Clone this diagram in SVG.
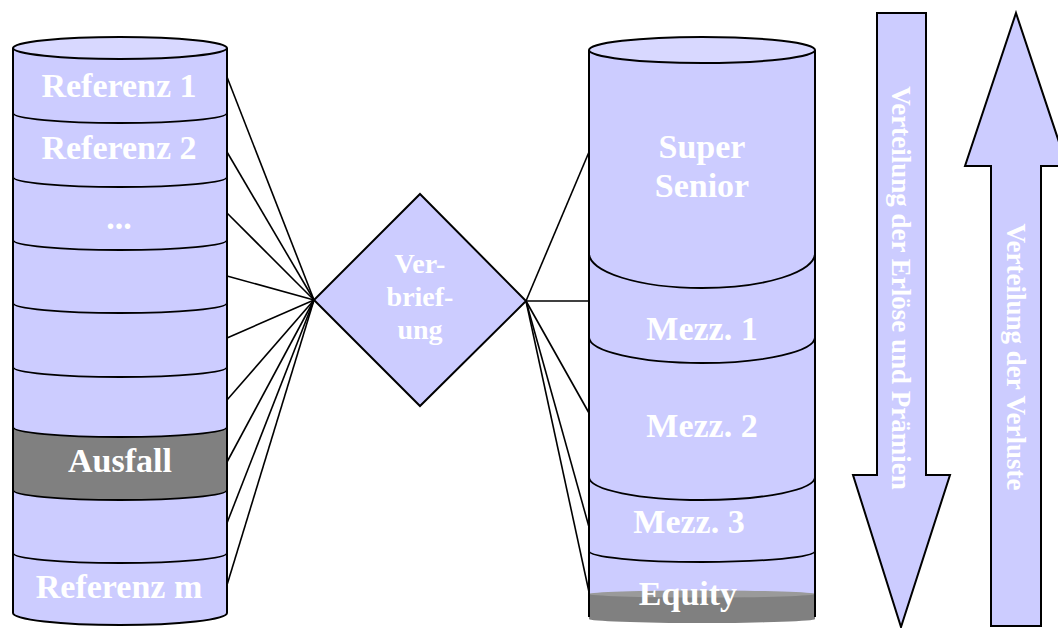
<svg xmlns="http://www.w3.org/2000/svg" width="1058" height="628" viewBox="0 0 1058 628">
  <style>
    .body { fill: #CCCCFF; stroke: none; }
    .top { fill: #D8D8FF; stroke: #000; stroke-width: 2; }
    .edge { fill: none; stroke: #000; stroke-width: 2; }
    .div { fill: none; stroke: #000; stroke-width: 1.8; }
    .link { fill: none; stroke: #000; stroke-width: 1.6; }
    .shape { fill: #CCCCFF; stroke: #000; stroke-width: 2; stroke-linejoin: miter; }
    .lbl { font-family: "Liberation Serif", "Times New Roman", serif; font-weight: bold; fill: #FFFFFF; text-anchor: middle; }
    .big { font-size: 34px; }
    .mid { font-size: 28px; }
    .side { font-size: 27px; }
  </style>

  <!-- connectors -->
  <g id="connectors">
    <line class="link" x1="227" y1="77" x2="314" y2="300"/>
    <line class="link" x1="227" y1="152" x2="314" y2="300"/>
    <line class="link" x1="227" y1="213" x2="314" y2="300"/>
    <line class="link" x1="227" y1="276" x2="314" y2="300"/>
    <line class="link" x1="227" y1="338" x2="314" y2="300"/>
    <line class="link" x1="227" y1="400" x2="314" y2="300"/>
    <line class="link" x1="227" y1="462" x2="314" y2="300"/>
    <line class="link" x1="227" y1="523" x2="314" y2="300"/>
    <line class="link" x1="227" y1="585" x2="314" y2="300"/>
    <line class="link" x1="526" y1="301" x2="589" y2="152"/>
    <line class="link" x1="526" y1="301" x2="589" y2="301"/>
    <line class="link" x1="526" y1="301" x2="589" y2="413"/>
    <line class="link" x1="526" y1="301" x2="589" y2="527"/>
    <line class="link" x1="526" y1="301" x2="589" y2="592"/>
  </g>

  <!-- reference pool -->
  <g id="pool">
    <path class="body" d="M13,48 L13,613 A107,12 0 0 0 227,613 L227,48 Z"/>
    <path fill="#808080" d="M13,427 A107,10 0 0 0 227,427 L227,490 A107,10 0 0 1 13,490 Z"/>
    <path class="edge" d="M13,48 L13,613 A107,12 0 0 0 227,613 L227,48"/>
    <ellipse class="top" cx="120" cy="48" rx="107" ry="11"/>
    <path class="div" d="M13,113 A107,10 0 0 0 227,113"/>
    <path class="div" d="M13,177 A107,10 0 0 0 227,177"/>
    <path class="div" d="M13,240 A107,10 0 0 0 227,240"/>
    <path class="div" d="M13,303 A107,10 0 0 0 227,303"/>
    <path class="div" d="M13,367 A107,10 0 0 0 227,367"/>
    <path class="div" d="M13,427 A107,10 0 0 0 227,427"/>
    <path class="div" d="M13,490 A107,10 0 0 0 227,490"/>
    <path class="div" d="M13,553 A107,10 0 0 0 227,553"/>
    <text class="lbl big" x="119" y="97">Referenz 1</text>
    <text class="lbl big" x="119" y="159">Referenz 2</text>
    <text class="lbl big" x="119" y="229">...</text>
    <text class="lbl big" x="120" y="472">Ausfall</text>
    <text class="lbl big" x="119" y="598">Referenz m</text>
  </g>

  <!-- securitisation -->
  <g id="verbriefung">
    <polygon class="shape" points="420,194 526,301 420,406 314,300"/>
    <text class="lbl mid" x="420" y="273">Ver-</text>
    <text class="lbl mid" x="420" y="306">brief-</text>
    <text class="lbl mid" x="420" y="339">ung</text>
  </g>

  <!-- tranches -->
  <g id="tranches">
    <rect class="body" x="589" y="50" width="226" height="567"/>
    <path fill="#808080" d="M589,594 L589,619 A113,4 0 0 0 815,619 L815,594 Z"/>
    <ellipse fill="#9A9A9A" cx="702" cy="594" rx="113" ry="3.5"/>
    <path class="edge" d="M589,50 L589,617 M815,50 L815,617"/>
    <ellipse class="top" cx="702" cy="50" rx="113" ry="13"/>
    <path class="div" d="M589,253 A113,35 0 0 0 815,253"/>
    <path class="div" d="M589,337 A113,26 0 0 0 815,337"/>
    <path class="div" d="M589,477 A113,23 0 0 0 815,477"/>
    <path class="div" d="M589,551 A113,11 0 0 0 815,551"/>
    <text class="lbl big" x="702" y="158">Super</text>
    <text class="lbl big" x="702" y="197">Senior</text>
    <text class="lbl big" x="702" y="340">Mezz. 1</text>
    <text class="lbl big" x="702" y="437">Mezz. 2</text>
    <text class="lbl big" x="689" y="533">Mezz. 3</text>
    <text class="lbl big" x="688" y="605">Equity</text>
  </g>

  <!-- proceeds flow downward -->
  <g id="arrow-down">
    <polygon class="shape" points="877,13 926,13 926,475 950,475 901,627 853,475 877,475"/>
    <text class="lbl side" transform="translate(901,288) rotate(90)" x="0" y="9">Verteilung der Erlöse und Prämien</text>
  </g>

  <!-- losses flow upward -->
  <g id="arrow-up">
    <polygon class="shape" points="1016,13 1067,166 1041,166 1041,626 991,626 991,166 965,166"/>
    <text class="lbl side" transform="translate(1016,357) rotate(90)" x="0" y="9">Verteilung der Verluste</text>
  </g>
</svg>
